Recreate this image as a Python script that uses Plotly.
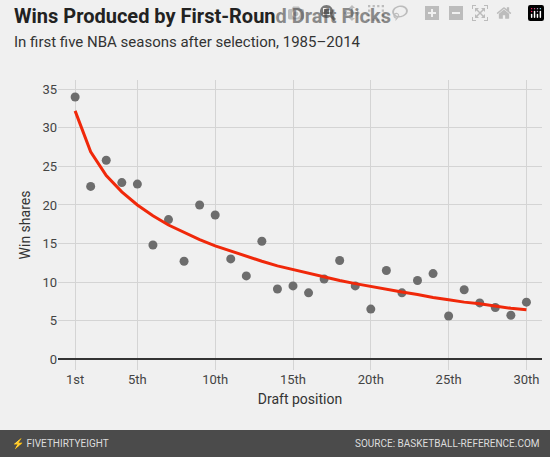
import plotly.graph_objects as go

picks = list(range(1, 31))
win_shares = [34.0, 22.4, 25.8, 22.9, 22.7, 14.8, 18.1, 12.7, 20.0, 18.7,
              13.0, 10.8, 15.3, 9.1, 9.5, 8.6, 10.4, 12.8, 9.5, 6.5,
              11.5, 8.6, 10.2, 11.1, 5.6, 9.0, 7.3, 6.7, 5.7, 7.4]
trend = [32.2, 26.9, 23.8, 21.7, 20.0, 18.6, 17.4, 16.4, 15.5, 14.7,
         14.0, 13.3, 12.7, 12.1, 11.6, 11.1, 10.7, 10.2, 9.8, 9.4,
         9.1, 8.7, 8.4, 8.0, 7.7, 7.4, 7.2, 6.9, 6.6, 6.4]
tick_vals = [1, 5, 10, 15, 20, 25, 30]
tick_text = ["1st", "5th", "10th", "15th", "20th", "25th", "30th"]

fig = go.Figure()
fig.add_trace(go.Scatter(x=picks, y=win_shares, mode="markers",
                         marker=dict(color="#6d6d6d", size=9), hoverinfo="skip"))
fig.add_trace(go.Scatter(x=picks, y=trend, mode="lines",
                         line=dict(color="#f0280a", width=3), hoverinfo="skip"))

font = "Roboto"
fig.update_layout(
    width=550, height=457, showlegend=False,
    paper_bgcolor="#f0f0f0", plot_bgcolor="#f0f0f0",
    margin=dict(l=58, r=8, t=80, b=87),
    font=dict(family=font, color="#333", size=13),
    xaxis=dict(range=[-0.1, 31], tickvals=tick_vals, ticktext=tick_text,
               showgrid=True, gridcolor="#d4d4d4", zeroline=False,
               tickfont=dict(size=13, color="#444"), ticks="",
               title=dict(text="Draft position", font=dict(size=14, color="#333"), standoff=8)),
    yaxis=dict(range=[-1.4, 36.2], tickvals=[0, 5, 10, 15, 20, 25, 30, 35],
               showgrid=True, gridcolor="#d4d4d4", zeroline=True,
               zerolinecolor="#333", zerolinewidth=1.5,
               tickfont=dict(size=13, color="#444"), ticks="",
               title=dict(text="Win shares", font=dict(size=14, color="#333"), standoff=8)),
    shapes=[dict(type="rect", xref="paper", yref="paper", x0=-0.2, x1=1.1,
                 y0=-87/290, y1=-60/290, fillcolor="#4b4b4b", line=dict(width=0), layer="above")],
    annotations=[
        dict(text="<b>Wins Produced by First-Round Draft Picks</b>", xref="paper", yref="paper",
             x=-46/484, y=1 + 64/290, xanchor="left", yanchor="middle", showarrow=False,
             font=dict(size=20, color="#222", family=font)),
        dict(text="In first five NBA seasons after selection, 1985–2014", xref="paper", yref="paper",
             x=-46/484, y=1 + 38/290, xanchor="left", yanchor="middle", showarrow=False,
             font=dict(size=15, color="#333", family=font)),
        dict(text="⚡ FIVETHIRTYEIGHT", xref="paper", yref="paper",
             x=-48/484, y=-73.5/290, xanchor="left", yanchor="middle", showarrow=False,
             font=dict(size=10, color="#ddd", family=font)),
        dict(text="SOURCE: BASKETBALL-REFERENCE.COM", xref="paper", yref="paper",
             x=1, y=-73.5/290, xanchor="right", yanchor="middle", showarrow=False,
             font=dict(size=10, color="#ddd", family=font)),
    ],
)
fig.write_html("out.html", post_script="document.body.style.margin='0';")
